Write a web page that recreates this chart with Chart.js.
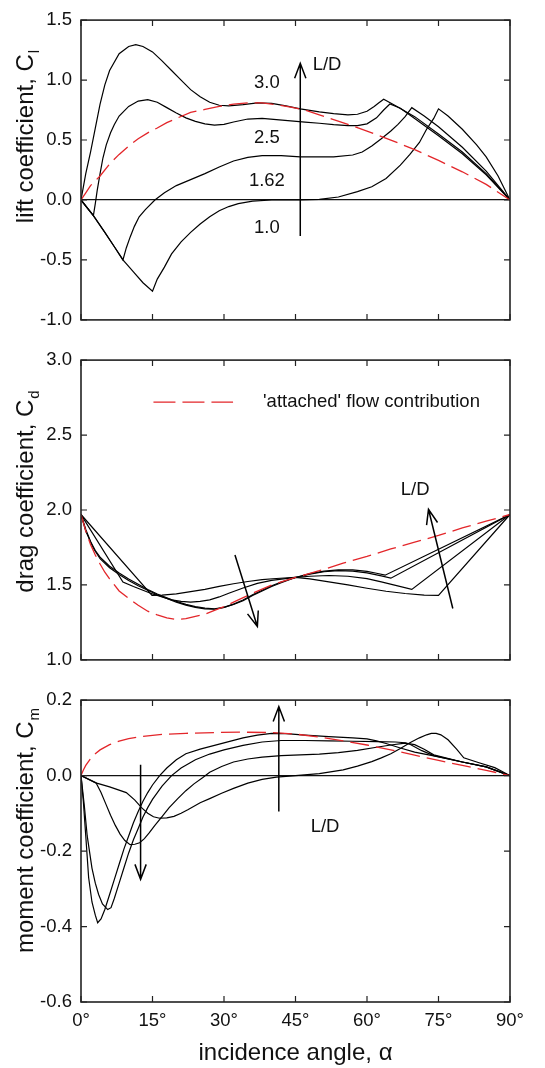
<!DOCTYPE html>
<html>
<head>
<meta charset="utf-8">
<script src="https://cdn.jsdelivr.net/npm/chart.js@4.4.1/dist/chart.umd.min.js"></script>
<style>
  body { margin: 0; background: #fff; }
  canvas { position: absolute; left: 0; }
</style>
</head>
<body>
<canvas id="lift" width="545" height="340" style="top:0px"></canvas>
<canvas id="drag" width="545" height="340" style="top:340px"></canvas>
<canvas id="moment" width="545" height="388" style="top:680px"></canvas>
<script>
// lift coefficient
var liftAlphaAtt = [0,1,2,4,6,8,10,12,14,16,18,20,23,26,29,32,35,38,41,44,47,50,53,56,60,65,70,75,80,85,90];
var liftAtt = [0,0.06,0.12,0.20,0.30,0.38,0.45,0.51,0.56,0.60,0.645,0.68,0.73,0.755,0.78,0.80,0.81,0.81,0.795,0.775,0.75,0.71,0.67,0.63,0.575,0.50,0.42,0.33,0.235,0.13,0];
var liftAlpha30 = [0,1,2,3,4,5,6,8,10,11.5,13,15,17,19,21,23,25,27,29,31,34,37,40,43,46,50,53,56,58,60,61.5,62.5,63.5,66,70,75,80,85,90];
var lift30 = [0,0.22,0.40,0.60,0.80,0.96,1.08,1.22,1.28,1.295,1.28,1.235,1.16,1.08,1.00,0.92,0.86,0.815,0.79,0.785,0.795,0.81,0.805,0.785,0.76,0.735,0.72,0.71,0.715,0.74,0.78,0.81,0.84,0.785,0.695,0.55,0.40,0.22,0];
var liftAlpha25 = [0,1.3,2.6,3.0,3.4,4.0,4.6,5.3,6.2,7,8,10,12,14,16,18,20,22,24,26,28,30,32,35,38,41,44,47,50,53,56,58,60,62,63.5,64.8,67,70,75,80,85,90];
var lift25 = [0,-0.065,-0.13,-0.03,0.08,0.22,0.35,0.46,0.56,0.63,0.70,0.78,0.825,0.837,0.815,0.77,0.725,0.685,0.655,0.635,0.625,0.63,0.65,0.675,0.68,0.67,0.66,0.65,0.64,0.628,0.62,0.62,0.635,0.685,0.75,0.80,0.765,0.68,0.535,0.385,0.21,0];
var liftAlpha162 = [0,2.6,5,7,8.8,9.5,10.3,11.2,12.2,13.5,15.5,17.5,20,23,26,29,32,35,38,42,46,50,53,57,59,61,63,65,66.5,68,69.4,72,75,80,85,90];
var lift162 = [0,-0.13,-0.27,-0.39,-0.50,-0.40,-0.31,-0.22,-0.14,-0.08,0.0,0.06,0.12,0.17,0.22,0.275,0.325,0.355,0.37,0.37,0.36,0.36,0.36,0.375,0.40,0.45,0.51,0.575,0.63,0.695,0.77,0.70,0.61,0.44,0.24,0];
var liftAlpha10 = [0,2.6,5,7,8.8,11,13,15,16,17.5,19,21,23,25,27,29,31,33,36,40,46,50,54,58,61,64,67,69,71,72.5,74,75,77,80,83,85,87.5,90];
var lift10 = [0,-0.13,-0.27,-0.39,-0.50,-0.60,-0.69,-0.76,-0.66,-0.56,-0.45,-0.35,-0.27,-0.20,-0.14,-0.09,-0.055,-0.03,-0.01,0,0,0.005,0.025,0.07,0.11,0.18,0.29,0.38,0.48,0.59,0.68,0.76,0.70,0.59,0.46,0.36,0.20,0];

// drag coefficient
var dragAlphaAtt = [0,1,2,3,4,5,6,8,10,12,14,16,18,20,22,24,26,28,30,33,36,40,45,50,55,60,65,70,75,80,85,90];
var dragAtt = [1.97,1.86,1.77,1.70,1.64,1.585,1.54,1.46,1.41,1.365,1.325,1.30,1.28,1.27,1.275,1.29,1.305,1.33,1.355,1.40,1.445,1.50,1.55,1.595,1.645,1.69,1.74,1.785,1.83,1.88,1.925,1.97];
var dragAlpha30 = [0,1,2,3,4,6,8,10,12,14,16,18,20,22,24,26,28,30,32,34,36,38,40,42,45,48,51,54,57,60,62,63.8,90];
var drag30 = [1.97,1.87,1.79,1.73,1.685,1.625,1.58,1.54,1.505,1.47,1.44,1.415,1.39,1.37,1.355,1.345,1.34,1.35,1.37,1.395,1.43,1.46,1.49,1.515,1.55,1.575,1.592,1.60,1.60,1.59,1.578,1.565,1.97];
var dragAlpha25 = [0,1,2.6,4,6,8,10,12,14,16,18,20,22,24,26,28,30,32,34,36,38,40,42,45,48,51,54,57,60,63,65,90];
var drag25 = [1.97,1.86,1.745,1.675,1.615,1.57,1.53,1.495,1.465,1.435,1.41,1.385,1.365,1.35,1.34,1.338,1.35,1.372,1.40,1.435,1.465,1.495,1.52,1.55,1.572,1.588,1.595,1.592,1.58,1.56,1.545,1.97];
var dragAlpha162 = [0,8.8,11,13,15,17,19,21,23,25,27,29,31,34,37,40,42.5,45,48,52,56,60,63,66,69.4,90];
var drag162 = [1.97,1.52,1.49,1.465,1.44,1.42,1.40,1.39,1.385,1.39,1.40,1.42,1.445,1.48,1.51,1.53,1.54,1.55,1.558,1.563,1.558,1.542,1.52,1.497,1.47,1.97];
var dragAlpha10 = [0,14.9,17,20,23,26,29,32,35,38,41,45,48,52,56,60,64,68,72,75,90];
var drag10 = [1.97,1.43,1.432,1.44,1.455,1.47,1.49,1.508,1.523,1.535,1.543,1.55,1.54,1.52,1.50,1.478,1.458,1.443,1.432,1.43,1.97];

// moment coefficient
var momentAlphaAtt = [0,0.5,1,2,3,4,6,8,10,13,17,22,28,34,40,45,50,55,60,65,70,75,80,85,90];
var momentAtt = [0,0.015,0.027,0.045,0.058,0.068,0.082,0.091,0.098,0.104,0.109,0.112,0.114,0.115,0.114,0.11,0.102,0.092,0.081,0.068,0.054,0.04,0.027,0.014,0];
var momentAlpha30 = [0,0.5,1,1.6,2.3,3,3.5,4.2,5,6,7,8,9,10,11,12,13,14,15,16.5,18,20,22,25,28,31,34,37,40,43,47,52,57,60,62,64,67,70,74,80,85,90];
var moment30 = [0,-0.07,-0.16,-0.27,-0.335,-0.37,-0.39,-0.38,-0.355,-0.315,-0.275,-0.235,-0.195,-0.16,-0.125,-0.095,-0.068,-0.045,-0.025,0,0.02,0.042,0.058,0.07,0.08,0.09,0.1,0.107,0.112,0.111,0.107,0.103,0.1,0.097,0.092,0.085,0.073,0.062,0.052,0.036,0.023,0];
var momentAlpha25 = [0,0.7,1.3,2.3,3,3.7,4.5,5.6,6.3,7,8,9,10,11,12,13,14,15,17,19,21,24,27,30,34,38,42,47,52,57,62,66,68,69,71.5,74,80,85,90];
var moment25 = [0,-0.08,-0.16,-0.245,-0.285,-0.315,-0.34,-0.355,-0.35,-0.325,-0.285,-0.245,-0.205,-0.17,-0.14,-0.11,-0.085,-0.063,-0.028,0,0.02,0.042,0.057,0.068,0.08,0.089,0.093,0.093,0.092,0.091,0.09,0.089,0.087,0.083,0.066,0.053,0.036,0.023,0];
var momentAlpha162 = [0,3.2,4.2,5.2,6.2,7.2,8.2,9.2,10.3,11.3,12.3,13.3,14.3,15.5,17,18.5,20.3,22,23.7,25.5,27,29.5,32,35,38,42,46,50,54,58,62,65,68,70,72,74,80,85,90];
var moment162 = [0,-0.02,-0.045,-0.075,-0.105,-0.132,-0.155,-0.172,-0.183,-0.182,-0.178,-0.167,-0.152,-0.132,-0.109,-0.085,-0.061,-0.04,-0.022,-0.006,0.009,0.024,0.036,0.044,0.049,0.053,0.055,0.057,0.061,0.067,0.075,0.081,0.086,0.082,0.07,0.055,0.036,0.023,0];
var momentAlpha10 = [0,3.3,6,9.5,11.3,12.7,14,15.2,16.5,18,19.5,21,22.5,25,27,29.5,32,35,38,41,45,50,55,58,61,63,65,67,69,71,72.5,73.5,74.5,75.5,77,78.8,80.3,83.5,86.8,90];
var moment10 = [0,-0.02,-0.03,-0.045,-0.065,-0.085,-0.1,-0.109,-0.113,-0.112,-0.108,-0.1,-0.09,-0.072,-0.061,-0.047,-0.034,-0.02,-0.01,-0.004,0,0.005,0.015,0.025,0.037,0.047,0.058,0.072,0.087,0.1,0.108,0.112,0.112,0.108,0.095,0.07,0.047,0.034,0.021,0];

var xTicks = [0, 15, 30, 45, 60, 75, 90];

var FONT = '"Liberation Sans", Arial, sans-serif';
Chart.defaults.font.family = FONT;
Chart.defaults.font.size = 18.5;
Chart.defaults.color = '#111';

function curve(label, xs, ys, red) {
    return {
        label: label,
        data: xs.map(function (a, i) { return {x: a, y: ys[i]}; }),
        showLine: true,
        pointRadius: 0,
        tension: 0,
        borderColor: red ? '#e3262a' : '#000',
        borderWidth: red ? 1.3 : 1.2,
        borderDash: red ? [19, 7] : []
    };
}

function arrow(ctx, x0, y0, x1, y1) {
    var ang = Math.atan2(y1 - y0, x1 - x0), L = 16, s = 0.36;
    ctx.beginPath();
    ctx.moveTo(x0, y0);
    ctx.lineTo(x1, y1);
    ctx.moveTo(x1 - L * Math.cos(ang - s), y1 - L * Math.sin(ang - s));
    ctx.lineTo(x1, y1);
    ctx.lineTo(x1 - L * Math.cos(ang + s), y1 - L * Math.sin(ang + s));
    ctx.stroke();
}

// frame, inward ticks, titles and notes
var decor = {
    id: 'decor',
    afterDraw: function (chart, args, o) {
        var ctx = chart.ctx, a = chart.chartArea;
        var sx = chart.scales.x, sy = chart.scales.y;
        var px = function (v) { return sx.getPixelForValue(v); };
        var py = function (v) { return sy.getPixelForValue(v); };
        ctx.save();
        ctx.strokeStyle = '#222';
        ctx.lineWidth = 1.2;
        ctx.beginPath();
        xTicks.forEach(function (v) {
            var p = px(v);
            ctx.moveTo(p, a.top); ctx.lineTo(p, a.top + 6);
            ctx.moveTo(p, a.bottom); ctx.lineTo(p, a.bottom - 6);
        });
        sy.ticks.forEach(function (t) {
            var p = py(t.value);
            ctx.moveTo(a.left, p); ctx.lineTo(a.left + 6, p);
            ctx.moveTo(a.right, p); ctx.lineTo(a.right - 6, p);
        });
        ctx.stroke();
        ctx.lineWidth = 1.6;
        ctx.strokeRect(a.left, a.top, a.right - a.left, a.bottom - a.top);

        ctx.fillStyle = '#111';
        // y title with subscript
        if (o.ytitle) {
            var t = o.ytitle;
            ctx.font = '24px ' + FONT;
            var w1 = ctx.measureText(t.text).width;
            ctx.font = '15px ' + FONT;
            var w2 = ctx.measureText(t.sub).width;
            ctx.save();
            ctx.translate(33, t.cy);
            ctx.rotate(-Math.PI / 2);
            ctx.textAlign = 'left';
            ctx.textBaseline = 'alphabetic';
            ctx.font = '24px ' + FONT;
            ctx.fillText(t.text, -(w1 + w2) / 2, 0);
            ctx.font = '15px ' + FONT;
            ctx.fillText(t.sub, -(w1 + w2) / 2 + w1 + 1, 6);
            ctx.restore();
        }
        if (o.xtitle) {
            ctx.font = '24px ' + FONT;
            ctx.textAlign = 'center';
            ctx.textBaseline = 'alphabetic';
            ctx.fillText(o.xtitle, (a.left + a.right) / 2, o.xtitleY);
        }
        // text notes
        ctx.font = '18.5px ' + FONT;
        ctx.textBaseline = 'middle';
        (o.labels || []).forEach(function (l) {
            ctx.textAlign = l.align || 'center';
            ctx.fillText(l.text, px(l.x), py(l.y));
        });
        ctx.strokeStyle = '#000';
        ctx.lineWidth = 1.5;
        (o.arrows || []).forEach(function (r) {
            arrow(ctx, px(r[0]), py(r[1]), px(r[2]), py(r[3]));
        });
        if (o.legend) {
            var g = o.legend;
            ctx.strokeStyle = '#e3262a';
            ctx.lineWidth = 1.3;
            ctx.setLineDash([22, 7]);
            ctx.beginPath();
            ctx.moveTo(px(g.x0), py(g.y));
            ctx.lineTo(px(g.x1), py(g.y));
            ctx.stroke();
            ctx.setLineDash([]);
            ctx.textAlign = 'left';
            ctx.fillText(g.text, px(g.tx), py(g.y));
        }
        ctx.restore();
    }
};

function makePanel(id, datasets, yMin, yMax, yStep, zeroLine, padTop, padBottom, showX, notes) {
    return new Chart(document.getElementById(id), {
        type: 'scatter',
        data: { datasets: datasets },
        options: {
            responsive: false,
            animation: false,
            devicePixelRatio: 1,
            layout: { padding: { left: 0, right: 35, top: padTop, bottom: padBottom } },
            plugins: { legend: { display: false }, tooltip: { enabled: false }, decor: notes },
            scales: {
                x: {
                    type: 'linear', min: 0, max: 90,
                    border: { display: false },
                    grid: { display: false, drawTicks: false },
                    ticks: {
                        display: showX, stepSize: 15, padding: 8, autoSkip: false, maxRotation: 0,
                        callback: function (v) { return v + '°'; }
                    },
                    afterFit: function (s) { s.height = showX ? 66 : 0; }
                },
                y: {
                    min: yMin, max: yMax,
                    border: { display: false },
                    grid: {
                        display: zeroLine, drawTicks: false, lineWidth: 1.2,
                        color: function (c) { return Math.abs(c.tick.value) < 1e-9 ? '#111' : 'rgba(0,0,0,0)'; }
                    },
                    ticks: {
                        stepSize: yStep, padding: 9,
                        callback: function (v) { return (Math.abs(v) < 1e-9 ? 0 : v).toFixed(1); }
                    },
                    afterFit: function (s) { s.width = 81; }
                }
            }
        },
        plugins: [decor]
    });
}

makePanel('lift', [
    curve('attached', liftAlphaAtt, liftAtt, true),
    curve('L/D 3.0', liftAlpha30, lift30),
    curve('L/D 2.5', liftAlpha25, lift25),
    curve('L/D 1.62', liftAlpha162, lift162),
    curve('L/D 1.0', liftAlpha10, lift10)
], -1.0, 1.5, 0.5, true, 15, 18, false, {
    ytitle: { text: 'lift coefficient, C', sub: 'l', cy: 137 },
    labels: [
        { text: '3.0', x: 39, y: 0.98 },
        { text: '2.5', x: 39, y: 0.52 },
        { text: '1.62', x: 39, y: 0.157 },
        { text: '1.0', x: 39, y: -0.236 },
        { text: 'L/D', x: 48.6, y: 1.125, align: 'left' }
    ],
    arrows: [[46, -0.30, 46, 1.14]]
});

makePanel('drag', [
    curve('attached', dragAlphaAtt, dragAtt, true),
    curve('L/D 3.0', dragAlpha30, drag30),
    curve('L/D 2.5', dragAlpha25, drag25),
    curve('L/D 1.62', dragAlpha162, drag162),
    curve('L/D 1.0', dragAlpha10, drag10)
], 1.0, 3.0, 0.5, false, 14, 19, false, {
    ytitle: { text: 'drag coefficient, C', sub: 'd', cy: 152 },
    labels: [{ text: 'L/D', x: 70.1, y: 2.135 }],
    arrows: [[32.3, 1.70, 37.0, 1.223], [78.0, 1.343, 72.9, 2.005]],
    legend: { x0: 15.2, x1: 31.9, y: 2.72, tx: 38.2, text: "'attached' flow contribution" }
});

makePanel('moment', [
    curve('attached', momentAlphaAtt, momentAtt, true),
    curve('L/D 3.0', momentAlpha30, moment30),
    curve('L/D 2.5', momentAlpha25, moment25),
    curve('L/D 1.62', momentAlpha162, moment162),
    curve('L/D 1.0', momentAlpha10, moment10)
], -0.6, 0.2, 0.2, true, 15, 0, true, {
    ytitle: { text: 'moment coefficient, C', sub: 'm', cy: 151 },
    xtitle: 'incidence angle, α', xtitleY: 380,
    labels: [{ text: 'L/D', x: 51.2, y: -0.135 }],
    arrows: [[12.5, 0.029, 12.5, -0.275], [41.5, -0.095, 41.5, 0.183]]
});
</script>
</body>
</html>
